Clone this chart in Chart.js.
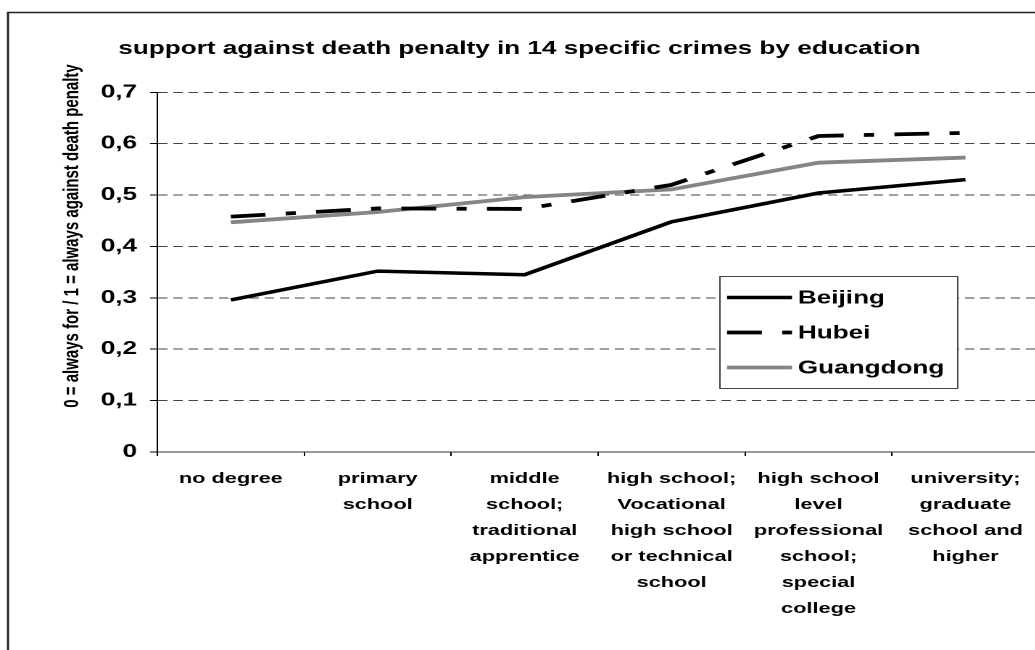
<!DOCTYPE html>
<html>
<head>
<meta charset="utf-8">
<title>support against death penalty by education</title>
<script src="https://cdn.jsdelivr.net/npm/chart.js@4.4.0/dist/chart.umd.min.js"></script>
<style>
  html, body { margin: 0; padding: 0; background: #fff; overflow: hidden; }
  /* the chart is laid out narrow and widened, which gives the broad lettering */
  #wrap { width: 720px; height: 650px; transform: scaleX(1.45); transform-origin: 0 0; }
</style>
</head>
<body>
<div id="wrap"><canvas id="chart" width="720" height="650"></canvas></div>
<script>
const chartTitle = 'support against death penalty in 14 specific crimes by education';
const yTitle = '0 = always for / 1 = always against death penalty';

const categories = [
  ['no degree'],
  ['primary', 'school'],
  ['middle', 'school;', 'traditional', 'apprentice'],
  ['high school;', 'Vocational', 'high school', 'or technical', 'school'],
  ['high school', 'level', 'professional', 'school;', 'special', 'college'],
  ['university;', 'graduate', 'school and', 'higher'],
];

const beijing = [0.296, 0.352, 0.345, 0.448, 0.504, 0.530];
const hubei = [0.458, 0.474, 0.473, 0.520, 0.615, 0.621];
const guangdong = [0.447, 0.467, 0.496, 0.511, 0.563, 0.573];

const yTicks = [0, 0.1, 0.2, 0.3, 0.4, 0.5, 0.6, 0.7];

Chart.defaults.font.family = "'Liberation Sans', Arial, sans-serif";
Chart.defaults.color = '#000';

function formatTick(value) {
  if (value === 0) return '0';
  return value.toFixed(1).replace('.', ',');
}

// outer frame, box legend and the rotated axis caption
const framePlugin = {
  id: 'frame',
  beforeDraw(chart) {
    const ctx = chart.ctx;
    ctx.save();
    ctx.fillStyle = '#fff';
    ctx.fillRect(0, 0, chart.width, chart.height);
    ctx.strokeStyle = '#222';
    ctx.lineWidth = 1.5;
    ctx.strokeRect(5.5, 12.5, chart.width + 20, chart.height + 20);
    ctx.restore();
  },
  afterDraw(chart) {
    const ctx = chart.ctx;
    ctx.save();

    ctx.translate(49.7, 236);
    ctx.rotate(-Math.PI / 2);
    ctx.font = "bold 15px 'Liberation Sans', Arial, sans-serif";
    ctx.fillStyle = '#000';
    ctx.textAlign = 'center';
    ctx.textBaseline = 'middle';
    ctx.fillText(yTitle, 0, 0);
    ctx.restore();

    const box = { left: 496, top: 276, right: 660, bottom: 388 };
    ctx.save();
    ctx.fillStyle = '#fff';
    ctx.fillRect(box.left, box.top, box.right - box.left, box.bottom - box.top);
    ctx.strokeStyle = '#444';
    ctx.lineWidth = 1;
    ctx.strokeRect(box.left + 0.5, box.top + 0.5, box.right - box.left, box.bottom - box.top);

    ctx.font = "bold 18px 'Liberation Sans', Arial, sans-serif";
    ctx.textAlign = 'left';
    ctx.textBaseline = 'middle';
    chart.data.datasets.forEach((ds, i) => {
      const y = 297.5 + i * 35;
      ctx.beginPath();
      ctx.strokeStyle = ds.borderColor;
      ctx.lineWidth = ds.borderWidth;
      ctx.lineCap = 'butt';
      ctx.setLineDash(ds.borderDash || []);
      ctx.moveTo(501.4, y);
      ctx.lineTo(546.2, y);
      ctx.stroke();
      ctx.setLineDash([]);
      ctx.fillStyle = '#000';
      ctx.fillText(ds.label, 550.3, y + 1);
    });
    ctx.restore();
  },
};

const chart = new Chart(document.getElementById('chart'), {
  type: 'line',
  data: {
    labels: categories,
    datasets: [
      {
        label: 'Beijing',
        data: beijing,
        borderColor: '#000',
        borderWidth: 3.5,
        pointRadius: 0,
        tension: 0,
      },
      {
        label: 'Hubei',
        data: hubei,
        borderColor: '#000',
        borderWidth: 3.8,
        borderDash: [24, 14, 7, 14],
        borderCapStyle: 'butt',
        pointRadius: 0,
        tension: 0,
      },
      {
        label: 'Guangdong',
        data: guangdong,
        borderColor: '#858585',
        borderWidth: 3.8,
        pointRadius: 0,
        tension: 0,
      },
    ],
  },
  options: {
    responsive: false,
    animation: false,
    devicePixelRatio: 2,
    layout: { padding: { left: 0, right: 3.5, top: 0, bottom: 0 } },
    plugins: {
      legend: { display: false },
      tooltip: { enabled: false },
      title: {
        display: true,
        text: chartTitle,
        color: '#000',
        font: { size: 18, weight: 'bold', lineHeight: 1.2 },
        padding: { top: 38, bottom: 32.7 },
      },
    },
    scales: {
      x: {
        offset: true,
        grid: { offset: true, drawOnChartArea: false, drawTicks: true, tickLength: 4, tickColor: '#000' },
        border: { color: '#333', width: 1 },
        ticks: {
          autoSkip: false,
          maxRotation: 0,
          minRotation: 0,
          padding: 10,
          color: '#000',
          font: { size: 15, weight: 'bold', lineHeight: 1.73 },
        },
        afterFit: (s) => { s.height = 198; },
      },
      y: {
        min: 0,
        max: 0.7,
        afterBuildTicks: (s) => { s.ticks = yTicks.map((v) => ({ value: v })); },
        ticks: {
          padding: 9,
          color: '#000',
          font: { size: 18, weight: 'bold' },
          callback: formatTick,
        },
        grid: { color: '#444', lineWidth: 1, tickColor: '#000', tickLength: 5 },
        border: { color: '#000', width: 1, dash: [6.5, 4] },
        afterFit: (s) => { s.width = 108.5; },
      },
    },
  },
  plugins: [framePlugin],
});
</script>
</body>
</html>
